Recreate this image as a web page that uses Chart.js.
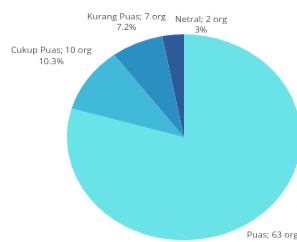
<!DOCTYPE html>
<html>
<head>
<meta charset="utf-8">
<script src="https://cdn.jsdelivr.net/npm/chart.js@4/dist/chart.umd.min.js"></script>
<style>
  html, body { margin: 0; padding: 0; background: #fff; }
  body { width: 297px; height: 242px; overflow: hidden; }
  /* la imagen original esta un poco aplastada en vertical */
  #wrap { width: 310px; height: 280px; transform: scaleY(0.88); transform-origin: 0 0; }
</style>
</head>
<body>
<div id="wrap"><canvas id="myChart" width="310" height="280"></canvas></div>
<script>
// Datos del grafico
const categorias = ['Puas', 'Cukup Puas', 'Kurang Puas', 'Netral'];
const jumlahOrang = [63, 10, 7, 2];
const persen = [79.5, 10.3, 7.2, 3];
const etiquetasPersen = ['', '10.3%', '7.2%', '3%'];

const colores = ['#6ae3e8', '#41b9d9', '#2c8fc4', '#2b5b99'];

// Distancia de las etiquetas (factor del radio) y giro extra en grados
const distEtiqueta = [1.26, 1.38, 1.22, 1.10];
const giroEtiqueta = [0, 0, 0, 13];

// Plugin para dibujar las etiquetas fuera de la torta
const etiquetasPlugin = {
  id: 'etiquetas',
  afterDraw(chart) {
    const ctx = chart.ctx;
    const arcs = chart.getDatasetMeta(0).data;
    ctx.save();
    ctx.font = '9px "Open Sans"';
    ctx.fillStyle = '#555';
    ctx.textAlign = 'center';
    ctx.textBaseline = 'middle';
    arcs.forEach((arc, i) => {
      const p = arc.getProps(['x', 'y', 'startAngle', 'endAngle', 'outerRadius'], true);
      const a = (p.startAngle + p.endAngle) / 2 + giroEtiqueta[i] * Math.PI / 180;
      const d = p.outerRadius * distEtiqueta[i];
      const x = p.x + Math.cos(a) * d;
      const y = p.y + Math.sin(a) * d;
      const lh = 12.5;
      ctx.fillText(categorias[i] + '; ' + jumlahOrang[i] + ' org', x, y - lh / 2);
      ctx.fillText(etiquetasPersen[i] || (persen[i] + '%'), x, y + lh / 2);
    });
    ctx.restore();
  }
};

const ctx = document.getElementById('myChart').getContext('2d');

const myChart = new Chart(ctx, {
  type: 'pie',
  data: {
    labels: categorias,
    datasets: [{
      data: persen,
      backgroundColor: colores,
      borderWidth: 0
    }]
  },
  options: {
    responsive: false,
    devicePixelRatio: 1,
    animation: false,
    layout: { padding: { left: 67, top: 39, right: 9, bottom: 7 } },
    plugins: {
      legend: { display: false },
      tooltip: { enabled: false }
    }
  },
  plugins: [etiquetasPlugin]
});
</script>
</body>
</html>
